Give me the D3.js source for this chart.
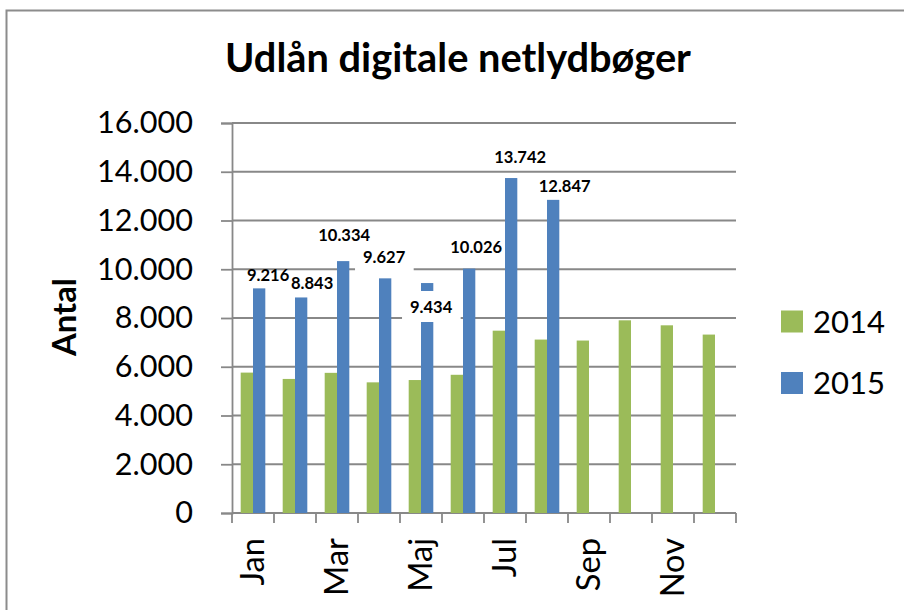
<!DOCTYPE html>
<html><head><meta charset="utf-8">
<script src="https://cdn.jsdelivr.net/npm/d3@7"></script>
<style>html,body{margin:0;padding:0;background:#fff;} svg{display:block;}</style>
</head><body>
<svg id="chart" width="904" height="610"></svg>
<script>
const months = ["Jan","Feb","Mar","Apr","Maj","Jun","Jul","Aug","Sep","Okt","Nov","Dec"];
const seriesNames = ["2014","2015"];
const values2014 = [5760,5500,5750,5360,5455,5670,7480,7115,7075,7905,7700,7320];
const values2015 = [9216,8843,10334,9627,9434,10026,13742,12847,null,null,null,null];
const yTicks = [0,2000,4000,6000,8000,10000,12000,14000,16000];
const shownMonthLabels = ["Jan","Mar","Maj","Jul","Sep","Nov"];
const chartTitle = "Udlån digitale netlydbøger";
const yTitle = "Antal";

// manual label nudges (as placed in the original), px relative to bar top
const labelDx = [9,11,1,-1,4,7,9,11.5];
const labelDy = [-13,-14,-26,-21,24,-22,-21,-14];
const labelBoxed = [false,false,false,true,true,false,false,false];

const colors = {"2014":"#9BBB59","2015":"#4F81BD"};
const gridColor = "#888888";
const FONT = "Lato, 'Open Sans', sans-serif";

const svg = d3.select("#chart");
const loc = d3.formatLocale({thousands:".",decimal:",",grouping:[3],currency:["",""]});
const fmt = loc.format(",d");

function fit(sel, target){
  const w = sel.node().getBBox().width;
  const fs = parseFloat(sel.attr("font-size"));
  sel.attr("font-size", fs*target/w);
}

// outer border
svg.append("rect").attr("x",6.5).attr("y",10.5).attr("width",1200).attr("height",1200)
  .attr("fill","none").attr("stroke","#8c8c8c").attr("stroke-width",2);

const pL=232, pR=736, pT=123, pB=513;
const x = d3.scaleBand().domain(months).range([pL,pR]).paddingInner(0.414).paddingOuter(0.207);
const xs = d3.scaleBand().domain(seriesNames).range([0,x.bandwidth()]);
const y = d3.scaleLinear().domain([0,16000]).range([pB,pT]);

// gridlines
svg.append("g").selectAll("line").data(yTicks.filter(d=>d>0)).join("line")
  .attr("x1",pL).attr("x2",pR).attr("y1",d=>y(d)).attr("y2",d=>y(d))
  .attr("stroke",gridColor).attr("stroke-width",1.8);

// y axis
const yAxis = svg.append("g").attr("transform",`translate(${pL},0)`)
  .call(d3.axisLeft(y).tickValues(yTicks).tickFormat(fmt).tickSize(11).tickPadding(28));
yAxis.select(".domain").attr("stroke",gridColor).attr("stroke-width",1.8);
yAxis.selectAll(".tick line").attr("stroke",gridColor).attr("stroke-width",1.8);
yAxis.selectAll(".tick text").attr("font-family",FONT).attr("font-size",30).attr("fill","#000");
{
  const t = yAxis.selectAll(".tick text").filter(d=>d===16000);
  const w = t.node().getBBox().width;
  yAxis.selectAll(".tick text").attr("font-size",30*96/w);
}

// x axis line and ticks at category boundaries
const step = x.step();
const bounds = d3.range(months.length+1).map(i=>pL+i*step);
svg.append("line").attr("x1",pL).attr("x2",pR).attr("y1",pB).attr("y2",pB)
  .attr("stroke",gridColor).attr("stroke-width",1.8);
svg.append("g").selectAll("line").data(bounds).join("line")
  .attr("x1",d=>d).attr("x2",d=>d).attr("y1",pB).attr("y2",pB+10)
  .attr("stroke",gridColor).attr("stroke-width",1.8);

// bars
const data = months.map((m,i)=>({m, v:{"2014":values2014[i],"2015":values2015[i]}}));
const g = svg.append("g");
data.forEach(d=>{
  seriesNames.forEach(s=>{
    const v = d.v[s];
    if(v==null) return;
    g.append("rect").attr("x",x(d.m)+xs(s)).attr("width",xs.bandwidth())
      .attr("y",y(v)).attr("height",y(0)-y(v)).attr("fill",colors[s]);
  });
});

// data labels for 2015
const lg = svg.append("g");
const labelItems = values2015.map((v,i)=>({v,i})).filter(o=>o.v!=null);
const lt = lg.selectAll("text").data(labelItems).join("text")
  .attr("x",d=>x(months[d.i])+xs("2015")+xs.bandwidth()/2 + labelDx[d.i])
  .attr("y",d=>y(d.v) + labelDy[d.i]).attr("dy","0.36em")
  .attr("text-anchor","middle").attr("font-family",FONT).attr("font-weight","bold")
  .attr("font-size",17).attr("fill","#000").text(d=>fmt(d.v));
{
  const w = lt.filter(d=>d.v===13742).node().getBBox().width;
  lt.attr("font-size",17*52/w);
  lt.each(function(d){
    if(labelBoxed[d.i]){
      const b = this.getBBox();
      lg.insert("rect","text").attr("x",b.x-8).attr("y",b.y-6).attr("width",b.width+16).attr("height",b.height+11).attr("fill","#fff");
    }
  });
}

// x labels
const xl = svg.append("g").selectAll("text").data(shownMonthLabels).join("text")
  .attr("transform",d=>`translate(${x(d)+x.bandwidth()/2},538) rotate(-90)`)
  .attr("dy","0.35em").attr("text-anchor","end")
  .attr("font-family",FONT).attr("font-size",30).attr("fill","#000").text(d=>d);
{
  const w = xl.filter(d=>d==="Mar").node().getBBox().width;
  xl.attr("font-size",30*58/w);
}

// y title
const yt = svg.append("text").attr("transform","translate(65,317) rotate(-90)")
  .attr("dy","0.35em").attr("text-anchor","middle").attr("font-family",FONT)
  .attr("font-weight","bold").attr("font-size",32).attr("fill","#000").text(yTitle);
fit(yt,79);

// title
const tt = svg.append("text").attr("x",458).attr("y",72).attr("text-anchor","middle")
  .attr("font-family",FONT).attr("font-weight","bold").attr("font-size",30).attr("fill","#000").text(chartTitle);
fit(tt,467);

// legend
const leg = svg.append("g");
seriesNames.forEach((s,i)=>{
  const ly = 321.5 + i*61.5;
  leg.append("rect").attr("x",781).attr("y",ly-11).attr("width",22).attr("height",22).attr("fill",colors[s]);
  const t = leg.append("text").attr("x",813).attr("y",ly).attr("dy","0.36em")
    .attr("font-family",FONT).attr("font-size",30).attr("fill","#000").text(s);
  fit(t,72);
});
</script>
</body></html>
